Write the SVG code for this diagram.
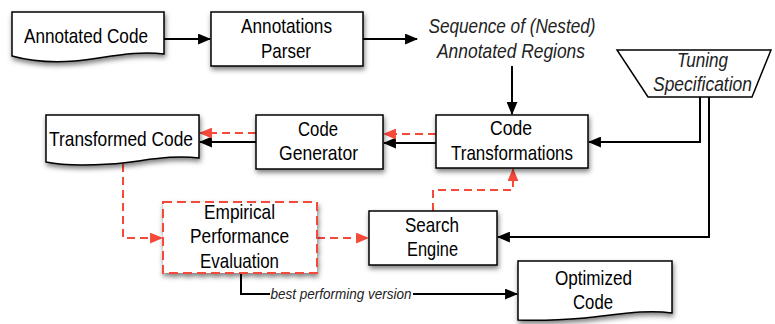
<svg xmlns="http://www.w3.org/2000/svg" width="775" height="324" viewBox="0 0 775 324">
<style>
.box{fill:#fff;stroke:#000;stroke-width:1.5;filter:url(#sh)}
.dbox{fill:#fff;stroke:#f5493a;stroke-width:2;stroke-dasharray:9 5;filter:url(#sh)}
.t{font-family:"Liberation Sans",Arial,sans-serif;font-size:21px;fill:#000;text-anchor:middle}
.ti{font-family:"Liberation Sans",Arial,sans-serif;font-size:21px;font-style:italic;fill:#222;text-anchor:middle}
.sm{font-family:"Liberation Sans",Arial,sans-serif;font-size:14px;font-style:italic;fill:#222;text-anchor:middle}
.k{fill:none;stroke:#000;stroke-width:2}
.r{fill:none;stroke:#f5493a;stroke-width:2;stroke-dasharray:8 5}
</style>
<defs>
<filter id="sh" x="-10%" y="-10%" width="125%" height="140%">
<feDropShadow dx="1" dy="3" stdDeviation="2.5" flood-color="#000" flood-opacity="0.5"/>
</filter>
<marker id="ak" viewBox="0 0 12 10" refX="11" refY="5" markerWidth="13" markerHeight="11" markerUnits="userSpaceOnUse" orient="auto">
<path d="M0,0 L12,5 L0,10 Z" fill="#000"/>
</marker>
<marker id="ar" viewBox="0 0 12 10" refX="11" refY="5" markerWidth="13" markerHeight="11" markerUnits="userSpaceOnUse" orient="auto">
<path d="M0,0 L12,5 L0,10 Z" fill="#f5493a"/>
</marker>
</defs>
<rect width="775" height="324" fill="#fff"/>

<g id="connectors">
<path class="k" d="M164,39 H210" marker-end="url(#ak)"/>
<path class="k" d="M363,39 H417" marker-end="url(#ak)"/>
<path class="k" d="M512,66 V114" marker-end="url(#ak)"/>
<path class="k" d="M700,97 V142 H589" marker-end="url(#ak)"/>
<path class="k" d="M709,97 V237 H498" marker-end="url(#ak)"/>
<path class="k" d="M436,143 H384" marker-end="url(#ak)"/>
<path class="r" d="M436,134 H384" marker-end="url(#ar)"/>
<path class="k" d="M256,142 H200" marker-end="url(#ak)"/>
<path class="r" d="M256,133 H200" marker-end="url(#ar)"/>
<path class="r" d="M123,164 V238 H162" marker-end="url(#ar)"/>
<path class="r" d="M317,238 H368" marker-end="url(#ar)"/>
<path class="r" d="M433,211 V190 H513 V169" marker-end="url(#ar)"/>
<path class="k" d="M241,273 V294 H270 M413,294 H517" marker-end="url(#ak)"/>
<text class="sm" x="341" y="299" textLength="141" lengthAdjust="spacingAndGlyphs">best performing version</text>
</g>

<g id="annotated-code">
<path class="box" d="M12,12 H164 V54 C135,50 105,58 75,61 C50,63 30,61 12,56 Z"/>
<text class="t" x="86" y="43" textLength="124" lengthAdjust="spacingAndGlyphs">Annotated Code</text>
</g>

<g id="annotations-parser">
<rect class="box" x="211" y="12" width="152" height="54"/>
<text class="t" x="286.5" y="33" textLength="91" lengthAdjust="spacingAndGlyphs">Annotations</text>
<text class="t" x="286" y="58" textLength="50" lengthAdjust="spacingAndGlyphs">Parser</text>
</g>

<g id="sequence">
<text class="ti" x="512" y="33" textLength="167" lengthAdjust="spacingAndGlyphs">Sequence of (Nested)</text>
<text class="ti" x="511" y="58" textLength="148" lengthAdjust="spacingAndGlyphs">Annotated Regions</text>
</g>

<g id="tuning-specification">
<path d="M617,50 L771,50 L752,97 L648,97 Z" fill="#fff" stroke="#000" stroke-width="1.5"/>
<text class="ti" x="702.5" y="67" textLength="51" lengthAdjust="spacingAndGlyphs">Tuning</text>
<text class="ti" x="702.5" y="91" textLength="99" lengthAdjust="spacingAndGlyphs">Specification</text>
</g>

<g id="code-transformations">
<rect class="box" x="436" y="115" width="152" height="53"/>
<text class="t" x="511" y="135" textLength="42" lengthAdjust="spacingAndGlyphs">Code</text>
<text class="t" x="512" y="160" textLength="122" lengthAdjust="spacingAndGlyphs">Transformations</text>
</g>

<g id="code-generator">
<rect class="box" x="256" y="115" width="127" height="54"/>
<text class="t" x="318" y="136" textLength="40" lengthAdjust="spacingAndGlyphs">Code</text>
<text class="t" x="318.5" y="160" textLength="79" lengthAdjust="spacingAndGlyphs">Generator</text>
</g>

<g id="transformed-code">
<path class="box" d="M46,115 H199 V158 C170,154 140,162 110,164 C80,166 60,165 46,162 Z"/>
<text class="t" x="121" y="146" textLength="144" lengthAdjust="spacingAndGlyphs">Transformed Code</text>
</g>

<g id="empirical-performance-evaluation">
<rect class="dbox" x="163" y="202" width="154" height="71"/>
<text class="t" x="239.5" y="219" textLength="71" lengthAdjust="spacingAndGlyphs">Empirical</text>
<text class="t" x="239.5" y="243" textLength="99" lengthAdjust="spacingAndGlyphs">Performance</text>
<text class="t" x="239.5" y="268" textLength="79" lengthAdjust="spacingAndGlyphs">Evaluation</text>
</g>

<g id="search-engine">
<rect class="box" x="369" y="211" width="128" height="54"/>
<text class="t" x="432" y="232" textLength="54" lengthAdjust="spacingAndGlyphs">Search</text>
<text class="t" x="432.5" y="256" textLength="51" lengthAdjust="spacingAndGlyphs">Engine</text>
</g>

<g id="optimized-code">
<path class="box" d="M518,261 H672 V313 C645,309 615,315 585,318 C560,320 540,321 518,320 Z"/>
<text class="t" x="593.5" y="285" textLength="77" lengthAdjust="spacingAndGlyphs">Optimized</text>
<text class="t" x="593" y="309" textLength="40" lengthAdjust="spacingAndGlyphs">Code</text>
</g>
</svg>
